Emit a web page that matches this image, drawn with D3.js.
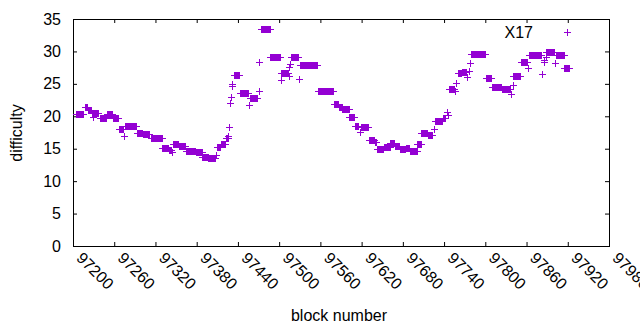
<!DOCTYPE html>
<html>
<head>
<meta charset="utf-8">
<script src="https://cdn.jsdelivr.net/npm/d3@7"></script>
<style>
  html, body { margin: 0; padding: 0; background: #fff; }
  svg { display: block; }
  text { font-family: "Liberation Sans", Arial, sans-serif; }
</style>
</head>
<body>
<svg id="chart" width="640" height="330"></svg>
<script>
// Runs of consecutive blocks holding the same X17 difficulty
const runFrom = [97204, 97217, 97222, 97228, 97240, 97249, 97258, 97267, 97276, 97293, 97302, 97313, 97330, 97339,
  97346, 97354, 97364, 97379, 97388, 97397, 97409, 97415, 97422, 97434, 97443, 97457, 97473, 97487, 97503,
  97517, 97530, 97557, 97580, 97587, 97592, 97602, 97610, 97619, 97631, 97639, 97642, 97652, 97662, 97668,
  97676, 97684, 97690, 97701, 97707, 97716, 97727, 97738, 97747, 97760, 97766, 97779, 97801, 97810, 97824,
  97841, 97852, 97863, 97889, 97903, 97915];
const runTo = [97215, 97220, 97226, 97237, 97248, 97257, 97265, 97273, 97292, 97301, 97311, 97329, 97338, 97343,
  97353, 97363, 97378, 97387, 97396, 97407, 97414, 97421, 97425, 97442, 97455, 97468, 97486, 97501, 97513,
  97528, 97555, 97579, 97586, 97591, 97601, 97609, 97615, 97630, 97638, 97641, 97651, 97661, 97667, 97675,
  97683, 97689, 97700, 97706, 97715, 97723, 97737, 97742, 97755, 97765, 97772, 97799, 97809, 97823, 97836,
  97851, 97861, 97881, 97900, 97914, 97922];
const runDiff = [20.3, 21.4, 20.9, 20.5, 19.8, 20.35, 19.8, 18.0, 18.55, 17.5, 17.2, 16.6, 15.05, 14.75,
  15.8, 15.45, 14.6, 14.5, 13.65, 13.5, 15.2, 15.8, 16.6, 26.3, 23.65, 22.75, 33.4, 29.1, 26.7,
  29.1, 27.85, 23.9, 21.85, 21.4, 21.1, 19.85, 18.55, 18.4, 16.35, 16.0, 14.95, 15.3, 15.85, 15.4,
  14.95, 15.05, 14.6, 15.7, 17.45, 17.1, 19.3, 19.75, 24.15, 26.6, 26.9, 29.6, 25.85, 24.45, 24.15,
  26.2, 28.3, 29.4, 29.95, 29.4, 27.4];

// Isolated blocks
const blockNum = [97229, 97274, 97344, 97408, 97426, 97427, 97428, 97430, 97431, 97432, 97456, 97470, 97471,
  97502, 97514, 97515, 97516, 97529, 97617, 97726, 97744, 97745, 97756, 97758, 97774, 97776, 97777,
  97837, 97840, 97862, 97883, 97885, 97886, 97888, 97902];
const blockDiff = [19.9, 16.9, 14.55, 14.0, 17.0, 18.4, 22.1, 23.0, 24.6, 25.0, 21.75, 23.9, 28.3,
  25.6, 26.2, 27.6, 28.0, 25.7, 17.6, 18.0, 20.6, 20.2, 23.9, 25.2, 26.0, 27.0, 28.2,
  23.4, 24.8, 27.4, 26.5, 28.4, 28.7, 29.2, 28.2];

const xTicks = d3.range(97200, 97981, 60);
const yTicks = d3.range(0, 36, 5);
const seriesName = "X17";
const xTitle = "block number";
const yTitle = "difficulty";

const points = [];
runFrom.forEach((f, i) => {
  for (let b = f; b <= runTo[i]; b++) points.push({ b: b, d: runDiff[i] });
});
blockNum.forEach((b, i) => points.push({ b: b, d: blockDiff[i] }));

const color = "#9400d3";
const L = 73, R = 609, T = 19, B = 246;
const svg = d3.select("#chart");
const x = d3.scaleLinear().domain([97200, 97980]).range([L, R]);
const y = d3.scaleLinear().domain([0, 35]).range([B, T]);
const cross = "M-3.5,0H3.5M0,-3.5V3.5";

function styleAxis(g) {
  g.select(".domain").remove();
  g.selectAll(".tick line").attr("stroke", "#000");
  g.attr("font-family", null).attr("font-size", null);
}

// bottom axis with rotated labels
const gx = svg.append("g").attr("transform", `translate(0,${B})`)
  .call(d3.axisBottom(x).tickValues(xTicks).tickSize(-4).tickSizeOuter(0).tickFormat(d3.format("d")))
  .call(styleAxis);
gx.selectAll(".tick text")
  .attr("y", 0).attr("dy", "0.35em")
  .attr("text-anchor", "start")
  .attr("transform", "translate(6,9) rotate(45)")
  .attr("font-size", "16px").attr("fill", "#000");

svg.append("g").attr("transform", `translate(0,${T})`)
  .call(d3.axisTop(x).tickValues(xTicks).tickSize(-4).tickSizeOuter(0).tickFormat(""))
  .call(styleAxis);

const gy = svg.append("g").attr("transform", `translate(${L},0)`)
  .call(d3.axisLeft(y).tickValues(yTicks).tickSize(-4).tickSizeOuter(0).tickPadding(12))
  .call(styleAxis);
gy.selectAll(".tick text").attr("font-size", "16px").attr("fill", "#000");

svg.append("g").attr("transform", `translate(${R},0)`)
  .call(d3.axisRight(y).tickValues(yTicks).tickSize(-4).tickSizeOuter(0).tickFormat(""))
  .call(styleAxis);

// border
svg.append("rect").attr("x", L + 0.5).attr("y", T + 0.5).attr("width", R - L).attr("height", B - T)
  .attr("fill", "none").attr("stroke", "#000").attr("stroke-width", 1);

// points
svg.append("g").selectAll("path").data(points).join("path")
  .attr("d", cross)
  .attr("transform", d => `translate(${Math.round(x(d.b)) + 0.5},${Math.round(y(d.d)) + 0.5})`)
  .attr("fill", "none").attr("stroke", color).attr("stroke-width", 1);

// legend
svg.append("text").attr("x", 533).attr("y", 38).attr("text-anchor", "end")
  .attr("font-size", "16px").text(seriesName);
svg.append("path").attr("d", cross).attr("transform", "translate(567.5,32.5)")
  .attr("fill", "none").attr("stroke", color);

// axis titles
svg.append("text").attr("x", 339).attr("y", 321).attr("text-anchor", "middle")
  .attr("font-size", "16px").text(xTitle);
svg.append("text").attr("transform", "translate(22,133) rotate(-90)").attr("text-anchor", "middle")
  .attr("font-size", "16px").text(yTitle);
</script>
</body>
</html>
